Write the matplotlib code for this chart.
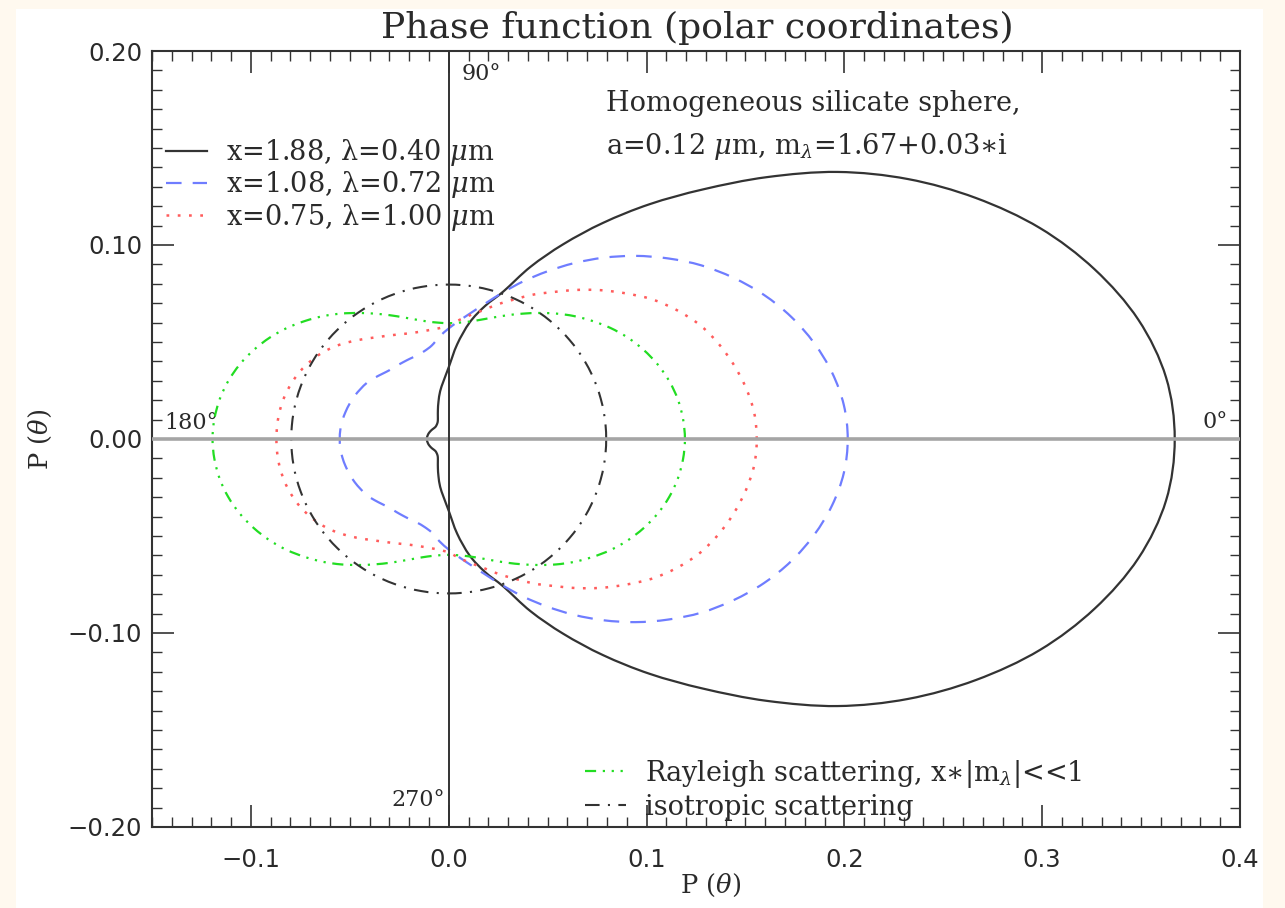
import numpy as np
import matplotlib
matplotlib.use('Agg')
import matplotlib.pyplot as plt
from matplotlib.patches import Rectangle, PathPatch
from matplotlib.path import Path
from matplotlib.lines import Line2D
from matplotlib.ticker import MultipleLocator, FuncFormatter

plt.rcParams['font.family'] = ['DejaVu Sans']
plt.rcParams['mathtext.fontset'] = 'dejavuserif'

# scattering angle (deg) and phase function
angles = list(range(0, 181, 5))

p_x188 = [0.367, 0.364, 0.354, 0.338, 0.318, 0.294, 0.268, 0.240, 0.210, 0.182,
          0.158, 0.136, 0.116, 0.098, 0.081, 0.071, 0.061, 0.049, 0.037, 0.030,
          0.025, 0.020, 0.016, 0.013, 0.011, 0.010, 0.0095, 0.0092, 0.0092, 0.0094,
          0.0097, 0.0100, 0.0103, 0.0106, 0.0108, 0.0110, 0.0111]

p_x108 = [0.2017, 0.2005, 0.1968, 0.1912, 0.1842, 0.1758, 0.1662, 0.156, 0.1448, 0.1335,
          0.122, 0.1107, 0.0998, 0.0898, 0.0805, 0.0725, 0.0662, 0.0612, 0.057, 0.053,
          0.049, 0.047, 0.046, 0.0458, 0.0458, 0.046, 0.0464, 0.0475, 0.049, 0.0505,
          0.0515, 0.0525, 0.0533, 0.054, 0.0546, 0.055, 0.0551]

p_x075 = [0.1557, 0.155, 0.1525, 0.149, 0.1448, 0.1397, 0.133, 0.1255, 0.1168, 0.1085,
          0.1003, 0.0925, 0.086, 0.0795, 0.0741, 0.0689, 0.065, 0.0616, 0.0585, 0.0573,
          0.057, 0.0572, 0.058, 0.0595, 0.0615, 0.064, 0.0672, 0.0708, 0.0745, 0.0778,
          0.0805, 0.0828, 0.0845, 0.0858, 0.0866, 0.087, 0.0871]

p_rayleigh = [0.1194, 0.1189, 0.1176, 0.1154, 0.1124, 0.1087, 0.1045, 0.0998, 0.0947, 0.0896,
              0.0844, 0.0793, 0.0746, 0.0704, 0.0667, 0.0637, 0.0615, 0.0602, 0.0597, 0.0602,
              0.0615, 0.0637, 0.0667, 0.0704, 0.0746, 0.0793, 0.0844, 0.0896, 0.0947, 0.0998,
              0.1045, 0.1087, 0.1124, 0.1154, 0.1176, 0.1189, 0.1194]

p_iso = [0.0796] * len(angles)

labels = ['x=1.88, \u03bb=0.40 $\\mu$m',
          'x=1.08, \u03bb=0.72 $\\mu$m',
          'x=0.75, \u03bb=1.00 $\\mu$m',
          'Rayleigh scattering, x\u2217|m$_{\\lambda}$|<<1',
          'isotropic scattering']

styles = [dict(color='#333333', lw=1.6, dashes=None),
          dict(color='#6f7dff', lw=1.6, dashes=(7, 5)),
          dict(color='#ff5c5c', lw=1.8, dashes=(1.1, 3.4)),
          dict(color='#22dd22', lw=1.6, dashes=(5, 3, 1, 3, 1, 3, 1, 3)),
          dict(color='#333333', lw=1.5, dashes=(7, 4, 1, 4))]


def polar_xy(p):
    th = np.deg2rad(np.array(angles, dtype=float))
    p = np.array(p)
    th_full = np.concatenate([th, 2 * np.pi - th[::-1][1:]])
    p_full = np.concatenate([p, p[::-1][1:]])
    return p_full * np.cos(th_full), p_full * np.sin(th_full)


def closed_curve(x, y):
    # smooth closed path through the points (Catmull-Rom as cubic Bezier)
    pts = np.column_stack([x, y])[:-1]
    n = len(pts)
    verts = [pts[0]]
    codes = [Path.MOVETO]
    for i in range(n):
        p0, p1, p2, p3 = pts[i - 1], pts[i], pts[(i + 1) % n], pts[(i + 2) % n]
        verts += [p1 + (p2 - p0) / 6, p2 - (p3 - p1) / 6, p2]
        codes += [Path.CURVE4] * 3
    return Path(verts, codes)


fig = plt.figure(figsize=(12.85, 9.08), dpi=100, facecolor='#FFF9EF')
fig.add_artist(Rectangle((16 / 1285, 0), (1263 - 16) / 1285, (908 - 9) / 908,
                         transform=fig.transFigure, facecolor='white',
                         edgecolor='none', zorder=0))
ax = fig.add_axes([152 / 1285, 81 / 908, 1088 / 1285, 776 / 908])

serif = 'DejaVu Serif'
tc = '#2a2a2a'

handles = []
for p, st, lab in zip([p_x188, p_x108, p_x075, p_rayleigh, p_iso], styles, labels):
    ls = '-' if st['dashes'] is None else (0, st['dashes'])
    patch = PathPatch(closed_curve(*polar_xy(p)), fill=False, edgecolor=st['color'],
                      lw=st['lw'], linestyle=ls, zorder=4)
    ax.add_patch(patch)
    handles.append(Line2D([], [], color=st['color'], lw=st['lw'], linestyle=ls, label=lab))

ax.axhline(0, color='#a5a5a5', lw=2.6, zorder=5)
ax.axvline(0, color='#333333', lw=1.4, zorder=5)

ax.set_xlim(-0.15, 0.4)
ax.set_ylim(-0.2, 0.2)
ax.xaxis.set_major_locator(MultipleLocator(0.1))
ax.xaxis.set_minor_locator(MultipleLocator(0.01))
ax.yaxis.set_major_locator(MultipleLocator(0.1))
ax.yaxis.set_minor_locator(MultipleLocator(0.01))


def fmt(dec):
    def f(v, pos):
        if abs(v) < 1e-9:
            v = 0.0
        return ('%.*f' % (dec, v)).replace('-', '\u2212')
    return FuncFormatter(f)


ax.xaxis.set_major_formatter(fmt(1))
ax.yaxis.set_major_formatter(fmt(2))
ax.tick_params(which='both', direction='in', top=True, right=True, color='#333333',
               labelcolor=tc, labelsize=17.5)
ax.tick_params(which='major', length=16, width=1.2)
ax.tick_params(which='minor', length=7, width=1.0)
ax.tick_params(axis='x', pad=15)
ax.tick_params(axis='y', pad=7)
for s in ax.spines.values():
    s.set_linewidth(1.5)
    s.set_color('#333333')

ax.set_xlabel('P ($\\theta$)', fontfamily=serif, fontsize=18.5, color=tc, labelpad=0)
ax.xaxis.set_label_coords(0.513, -0.058)
ax.set_ylabel('P ($\\theta$)', fontfamily=serif, fontsize=18.5, color=tc, labelpad=10)

fig.text(697 / 1285, 1 - 28 / 908, 'Phase function (polar coordinates)', fontfamily=serif,
         fontsize=26, color=tc, ha='center', va='center')

ax.text(0.0066, 0.188, '90\u00b0', fontfamily=serif, fontsize=16, color=tc, va='center')
ax.text(-0.002, -0.186, '270\u00b0', fontfamily=serif, fontsize=16, color=tc, ha='right', va='center')
ax.text(-0.1436, 0.008, '180\u00b0', fontfamily=serif, fontsize=16, color=tc, va='center')
ax.text(0.381, 0.009, '0\u00b0', fontfamily=serif, fontsize=16, color=tc, va='center')

ax.text(0.0795, 0.173, 'Homogeneous silicate sphere,', fontfamily=serif, fontsize=19.5,
        color=tc, va='center')
ax.text(0.0795, 0.151, 'a=0.12 $\\mu$m, m$_{\\lambda}$=1.67+0.03\u2217i',
        fontfamily=[serif, 'DejaVu Sans'], fontsize=19.5, color=tc, va='center')

leg1 = ax.legend(handles=handles[:3], loc='upper left', bbox_to_anchor=(0.013, 0.889),
                 frameon=False, prop={'family': serif, 'size': 19.5}, handlelength=1.5,
                 handletextpad=0.7, labelspacing=0.05, borderpad=0, borderaxespad=0,
                 labelcolor=tc)
ax.add_artist(leg1)
ax.legend(handles=handles[3:], loc='lower left', bbox_to_anchor=(0.398, 0.008),
          frameon=False, prop={'family': [serif, 'DejaVu Sans'], 'size': 19.5}, handlelength=1.5,
          handletextpad=0.7, labelspacing=0.15, borderpad=0, borderaxespad=0,
          labelcolor=tc)

fig.savefig('out.png', dpi=100, facecolor=fig.get_facecolor())
